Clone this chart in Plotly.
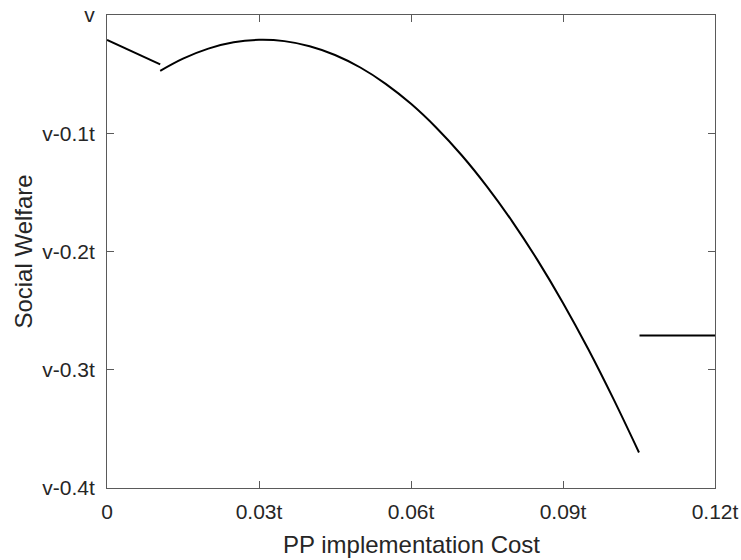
import plotly.graph_objects as go

# Segment 1 (low cost regime)
seg1_x = [0.0, 0.0105]
seg1_y = [-0.0211, -0.0417]

# Segment 2 (interior regime)
seg2_x = [0.0105, 0.015, 0.020, 0.025, 0.030, 0.035, 0.040, 0.045, 0.050, 0.055,
          0.060, 0.065, 0.070, 0.075, 0.080, 0.085, 0.090, 0.095, 0.100, 0.105]
seg2_y = [-0.0472, -0.0369, -0.0284, -0.0231, -0.0210, -0.0221, -0.0264, -0.0338, -0.0444, -0.0582,
          -0.0751, -0.0953, -0.1186, -0.1451, -0.1747, -0.2075, -0.2435, -0.2827, -0.3251, -0.3700]

# Segment 3 (high cost regime)
seg3_x = [0.1051, 0.12]
seg3_y = [-0.271, -0.271]

x_tickvals = [0, 0.03, 0.06, 0.09, 0.12]
x_ticktext = ["0", "0.03t", "0.06t", "0.09t", "0.12t"]
y_tickvals = [0, -0.1, -0.2, -0.3, -0.4]
y_ticktext = ["v", "v-0.1t", "v-0.2t", "v-0.3t", "v-0.4t"]

x_title = "PP implementation Cost"
y_title = "Social Welfare"

fig = go.Figure()
fig.add_trace(go.Scatter(x=seg1_x, y=seg1_y, mode="lines",
                         line=dict(color="black", width=2), showlegend=False))
fig.add_trace(go.Scatter(x=seg2_x, y=seg2_y, mode="lines",
                         line=dict(color="black", width=2, shape="spline"), showlegend=False))
fig.add_trace(go.Scatter(x=seg3_x, y=seg3_y, mode="lines",
                         line=dict(color="black", width=2), showlegend=False))

axis_col = "#262626"
line_col = "#5a5a5a"
font_fam = "Liberation Sans, Arial, Helvetica, sans-serif"
fig.update_layout(
    width=741, height=560,
    margin=dict(l=107, r=26, t=15, b=72),
    paper_bgcolor="white", plot_bgcolor="white",
    font=dict(family=font_fam, color=axis_col, size=21),
    xaxis=dict(
        range=[0, 0.12], tickvals=x_tickvals, ticktext=x_ticktext,
        showgrid=False, zeroline=False, showline=True, linecolor=line_col, linewidth=1,
        mirror="ticks", ticks="inside", ticklen=7, tickcolor=line_col,
        tickfont=dict(size=21, color=axis_col), automargin=False,
        ticklabelstandoff=5, ticklabeloverflow="allow",
    ),
    yaxis=dict(
        range=[-0.4, 0], tickvals=y_tickvals, ticktext=y_ticktext,
        showgrid=False, zeroline=False, showline=True, linecolor=line_col, linewidth=1,
        mirror="ticks", ticks="inside", ticklen=7, tickcolor=line_col,
        tickfont=dict(size=21, color=axis_col), automargin=False,
        ticklabelstandoff=7, ticklabeloverflow="allow",
    ),
    annotations=[
        dict(text=x_title, xref="paper", yref="paper", x=0.5, y=-0.1205,
             xanchor="center", yanchor="middle", showarrow=False,
             font=dict(size=24, color=axis_col, family=font_fam)),
        dict(text=y_title, xref="paper", yref="paper", x=-0.138, y=0.5,
             xanchor="center", yanchor="middle", showarrow=False, textangle=-90,
             font=dict(size=24, color=axis_col, family=font_fam)),
    ],
)

# let the 741x560 figure fill the window exactly (no default page margin, no scrollbars)
fig.write_html(
    "out.html",
    config={"displayModeBar": False},
    post_script="document.body.style.margin='0';document.body.style.overflow='hidden';",
)
